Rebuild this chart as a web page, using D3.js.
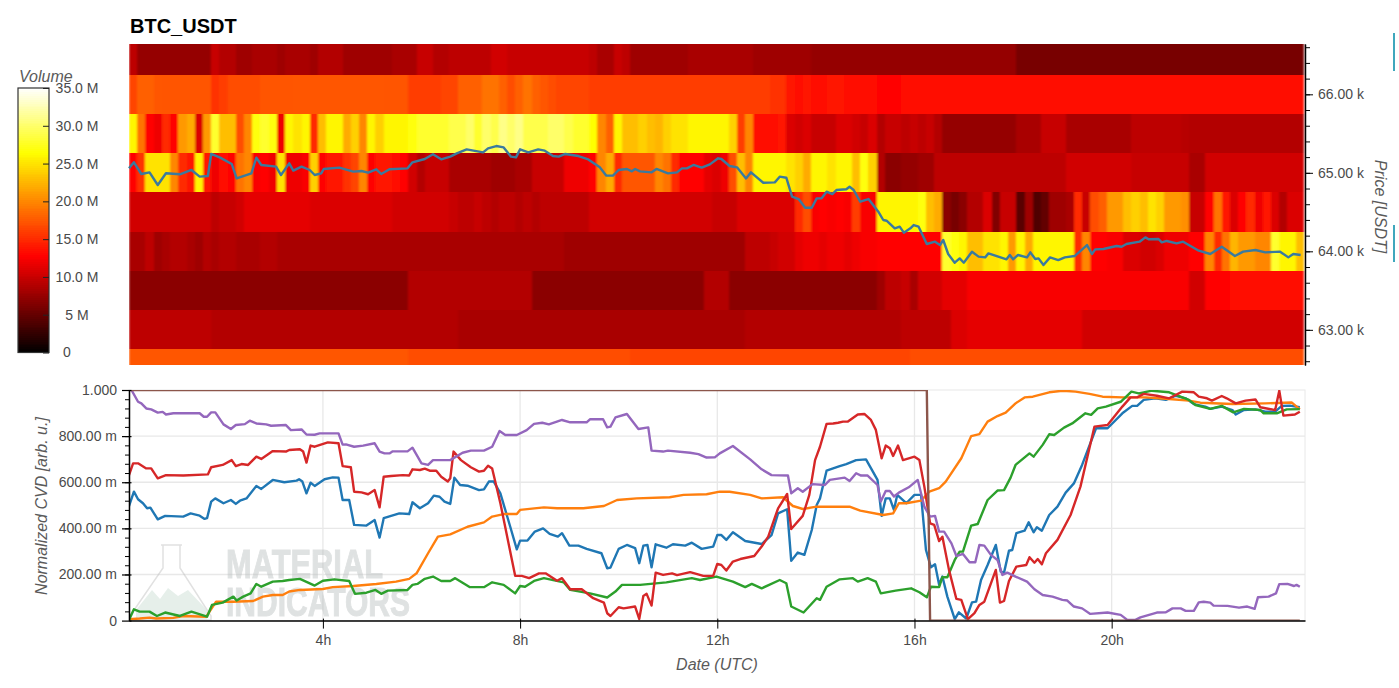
<!DOCTYPE html>
<html>
<head>
<meta charset="utf-8">
<script src="https://cdn.jsdelivr.net/npm/d3@7"></script>
<style>
  body { margin: 0; background: #fff; }
  text { font-family: "Liberation Sans", Arial, sans-serif; }
  .tick text { fill: #4a4a4a; font-size: 14px; }
  .axis-label { fill: #5a5a5a; font-size: 16px; font-style: italic; }
</style>
</head>
<body>
<svg id="chart" width="1399" height="688"></svg>
<script>
// Volume per price level (millions), one value per 10 minute column
const heatPrices = [66500, 66000, 65500, 65000, 64500, 64000, 63500, 63000, 62500];
const heat66500 = [
  9.5,7.5,7.5,7.5,7.5,7.5,7.5,7.5,7.5,7.5,
  10,9,9,8,8,8.5,8.5,8.5,8,8.5,
  8.5,8.5,8,9,9,9,8,8,8,8,
  8,8,8.5,8.5,8.5,10,10,9,9,9.5,
  9.5,9.5,9.5,9.5,10.5,10.5,10,10,10,10,
  10,10,10,10,10,10,9.5,8.5,8.5,10,
  9.5,8,8,8,8,8,8,8,8.5,8.5,
  8.5,8.5,8.5,8.5,8.5,8.5,8,8,8,8,
  8,8,8,7.5,7.5,7.5,7.5,7.5,7.5,7.5,
  7.5,7.5,7.5,7.5,7.5,7.5,7.5,7.5,7.5,7.5,
  7.5,7.5,7.5,7.5,7.5,7.5,7.5,7.5,6,6,
  6,6,6,6,6,6,6,6,6,6,
  6,6,6,6,6,6,6,6,6,6,
  6,6,6,6,6,6,6,6,6,6,
  6,6,6];
const heat66000 = [
  16.5,18,18,17.5,17.3,17.3,17.3,17.3,17.3,17.3,
  15.5,16,17,17,17,17,17.3,17.3,17.3,17.3,
  17.5,17.5,17.5,17.5,17.5,17.5,17.5,17.5,17.5,17.5,
  17.5,17.3,17.3,17.3,16,16,16,16,16.5,16.5,
  18,18,18,19,19,18,17,18,19,18,
  17.5,17,16.5,16.5,16.5,16.5,16,16,16,16,
  16,16,16,16,16,16,16,16,16,16,
  16,16,16,16,16,16,16,16,15.5,15.5,
  14,13.5,14,13.5,13.5,14,14,13.5,13.5,13.5,
  13.5,12.8,12.8,12.8,13.2,13.2,13.2,13.2,13.2,13.2,
  13.2,13.2,13.2,13.2,13.2,13.2,13.2,13.2,13.6,13.6,
  13.6,13.6,13.6,13.6,13.6,13.6,13.6,13.6,13.6,13.6,
  13.6,13.6,13.6,13.6,13.6,13.6,13.6,13.6,13.6,13.6,
  13.6,13.6,13.6,13.6,13.6,13.6,13.6,13.6,13.6,13.6,
  13.6,13.6,13.6];
const heat65500 = [
  26,19,13,12,15,13,21,22,11,21,
  28,23,23,17,20,27,28,27,12,26,
  25,26,15,23,26,26,22,24,20,26,
  24,26,26,26,27,28,28,28,28,29,
  29,30,28,30,29,31,30,31,29,29,
  29,30,30,29,28,28,26.5,20,18,26,
  23,23,24,23,22.5,24,25,25,26,26,
  26,26,26,24,16,20,13.5,13.5,13.5,14,
  11,10.5,11,10,10,10,11,11,10.5,10,
  11,9,10,10,9.5,10,9.5,10,9,7.5,
  7.5,7.5,7.5,7.5,7.5,7.5,7.5,7.5,8.5,8.5,
  8.5,10,10,10,8.5,8.5,8.5,8.5,8.5,8.5,
  8.5,8.5,9.5,9.5,9.5,9.5,9.5,9.5,9.2,9,
  9,9,9,9,9,9,9,9,9,9,
  9,9,9];
const heat65000 = [
  13,15.5,25,25,25,20,15,14,26,14,
  12,13.5,13,19,20,12.5,13,12,25,12,
  12,12.5,24,13,14,14,15.5,16.5,20,13,
  14,14,13.5,13,10.5,9,10,10,10,8.5,
  8.5,8.5,8.5,8.5,8,8,8,8.5,8.5,10,
  10,10,10,12,12,12,13,20,22,15,
  17.5,17.5,17.5,17.5,20,19,15,13,13,13,
  11.5,11,12,17,23,20,26,26,26,26,
  25,24,22,26,26,25,26,26,23,27,
  24,9,7,7,7.5,7.5,8,8,9.5,9.5,
  9.5,9.5,9.5,9.5,9.5,9.5,9.5,9.5,9.5,9.5,
  9.5,9.5,9.5,9.5,10.5,10.5,10.5,10.5,10.5,10.5,
  10.5,10.5,10,10,10,10,10,10,10,8.5,
  8.5,10.5,10.5,10.5,10.5,10.5,10.5,10.5,10.5,10.5,
  10.5,10.5,10.5];
const heat64500 = [
  10.5,10.5,10.5,10.5,10.5,10.5,10.5,10.5,10.5,10.5,
  9.5,10,10,10.5,11.5,11.5,11.5,11.5,11.5,11.5,
  11.5,11.5,11,11,11,11,11,11,11,11,
  11,11,10.5,10.5,10.5,10.5,10.5,10.5,10.5,10,
  9.5,9.5,10,9.5,9,9.5,9.5,9,9.5,9,
  9.5,9.5,9.5,9.5,9.5,9.5,10.5,10.5,10.5,10.5,
  10.5,10.5,10.5,10.5,10.5,10.5,10.5,10.5,10.5,10.5,
  10.5,10,10,10,11,11,11,11,11,11,
  11,15,17,12.5,13,12.5,12.8,12.5,16,12.5,
  12.5,26,26,26,26,26,27,23,22,7,
  6,7,9,9,11,6.5,10,10,4.5,8,
  4,5,8,8,8.5,15,10,17,18,21,
  21,23,24,23,25,24,21,21,20.5,10,
  10,13,19,14,11,13,15,12,14,11,
  9,11,11];
const heat64000 = [
  8.5,8.5,9.5,8,8.5,9,9,8.5,8,9,
  8.5,9,9,8.5,8.5,8.5,9,9,8.5,8.5,
  8.5,8.5,8.5,8.5,8.5,8.5,8.5,8.5,8.5,8.5,
  8.5,8.5,8.5,8.5,8.5,8.5,8.5,8.5,8.5,8.5,
  8.5,8.5,8.5,8.5,8.5,8.5,8.5,8.5,8.5,8.5,
  8.5,8.5,8.5,8,8,8,8,8,8,8,
  8,8,8,8,8,8,8,8,8,8,
  8,8,8,8,8,9.5,9.5,9.5,10,10.5,
  10.5,11.5,12,12,11.5,12,12,11.5,12,12.5,
  12.5,12.8,12.8,12.8,12.8,12.8,12.8,12.8,12.8,28,
  27,26,23,23,25,25,26,21,26,22,
  26,26,26,26,26,15,20,13,13,12.5,
  12.5,11,11,10.5,10.5,11,12,12,12,12.8,
  12.8,20,15,19,22.5,21,21,20,20,28,
  26,26,23];
const heat63500 = [
  7,7,7,7,7,7,7,7,7,7,
  7,7,7,7,7,7,7,7,7,7,
  7,7,7,7,7,7,7,7,7,7,
  7,7,7,7,9,9,9,9,9,9,
  9,9,9,9,9,9,9,9,9,7,
  7,7,7,7,7,7,7,7,7,7,
  7,7,7,7,7,7,7,7,7,7,
  9,9,9,7,7,7,7,7,7,7,
  7,7,7,7,7,7,7,7,7,7,
  7,8,9.5,9.5,10,8.5,10.5,10.5,10.5,11.5,
  11.5,11.5,12.5,12.5,12.5,12.5,12.5,12.5,12.5,12.5,
  12.5,12.5,12.5,12.5,12.5,12.5,12.5,12.5,12.5,12.5,
  12.5,12.5,12.5,12.5,12.5,12.5,12.5,12.5,12.5,10.5,
  10.5,12.8,12.8,12.8,13.2,13.2,13.2,13.2,13.2,13.2,
  13.2,13.2,13.2];
const heat63000 = [
  9.5,9.5,9.5,9.5,9.5,9.5,9.5,9.5,9.5,9.5,
  9,9,9,9,9,9,9,9,9,9,
  9,9,9,9,9,9,9,9,9,9,
  9,9,9,9,9,9,9,9,9,9,
  8.5,8.5,8.5,8.5,8.5,8.5,8.5,8.5,8.5,8.5,
  8.5,8.5,8.5,8.5,8.5,8.5,8.5,8.5,8.5,8.5,
  8.5,8.5,8.5,8.5,8.5,8.5,8.5,8.5,8.5,8.5,
  8.5,8.5,8.5,8.5,8.5,9,9,9,9,9,
  9,9,9,9,9,9,9,9,9,9,
  9,9,9,9,9.5,9.5,9.5,9.5,9.5,9.5,
  11,11,11.5,11.5,11.5,11.5,11.5,11.5,11.5,11.5,
  11.5,11.5,11.5,11.5,11.5,11.5,10.5,10.5,10.5,10.5,
  10.5,10.5,10.5,10.5,10.5,10.5,10.5,10.5,10.5,10.5,
  10.5,10.5,10.5,10.5,10.5,10.5,10.5,10.5,10.5,10.5,
  10.5,10.5,10.5];
const heat62500 = [
  17.5,17.5,17.5,17.5,17.5,17.5,17.5,17.5,17.5,17.5,
  17.5,17.5,17.5,17.5,17.5,17.5,17.5,17.5,17.5,17.5,
  17.5,17.5,17.5,17.5,17.5,17.5,17.5,17.5,17.5,17.5,
  17.5,17.5,17.5,17.5,17,17,17,17,17,17,
  17,17,17,17,17,17,17,17,17,17,
  17,17,17,17,17,17,17,17,17,17,
  17,16.5,16.5,16.5,16.5,16.5,16.5,16.5,16.5,16.5,
  16.5,16.5,16.5,16.5,16.5,16.5,16.5,16.5,16.5,16.5,
  16.5,16.5,16.5,16.5,16.5,16.5,16.5,16.5,16.5,16.5,
  16.5,16.5,16.5,16.5,16.5,17,17,17,17,17,
  17,17,17,17,17,17,17,17,17,17,
  17,17,17,17,17,17,17,17,17,17,
  17,17,17,17,17,17,17,17,17,17,
  17,17,17,17,17,17,17,17,17,17,
  17,17,17];
const heatRows = [heat66500, heat66000, heat65500, heat65000, heat64500, heat64000, heat63500, heat63000, heat62500];

// Price line: [minute of day, price]
const price = [[4,65057],[10,65134],[19,64985],[29,65006],[39,64845],[49,64994],[66,64981],[80,65036],[90,64951],[100,64960],[104,65240],[115,65193],[129,65113],[135,64930],[153,64994],[159,65193],[165,65100],[183,65079],[189,64972],[199,65121],[204,65028],[214,65079],[224,65036],[230,64972],[238,64994],[241,65049],[260,65066],[277,65015],[287,65023],[295,65002],[305,65045],[311,64985],[321,65045],[343,65057],[349,65134],[364,65176],[374,65236],[384,65172],
  [395,65206],[403,65248],[415,65299],[435,65260],[441,65312],[451,65341],[460,65324],[469,65206],[475,65197],[480,65299],[490,65260],[502,65299],[510,65282],[520,65214],[527,65206],[535,65240],[551,65214],[563,65171],[577,65070],[585,64964],[593,64964],[600,65036],[610,65049],[616,65019],[620,65049],[626,65019],[640,65006],[646,65049],[660,64993],[671,65006],[677,65057],[683,65057],[691,65100],[701,65066],[711,65108],[721,65185],[725,65176],[735,65087],[744,65070],[755,64929],[761,65006],[776,64874],[790,64878],[796,64951],[804,64938],[811,64696],[819,64666],[827,64555],[835,64555],[841,64675],[847,64675],[853,64760],[860,64730],[865,64781],[877,64790],[881,64823],[886,64781],[894,64632],[904,64666],[916,64505],[922,64399],[926,64390],[936,64292],
  [942,64314],[947,64238],[955,64293],[959,64335],[965,64314],[975,64093],[985,64123],[991,64080],[995,64144],[1001,63966],[1009,63855],[1015,63910],[1020,63855],[1030,63995],[1038,63932],[1046,63923],[1050,63974],[1072,63898],[1076,63953],[1080,63898],[1086,63953],[1097,63923],[1101,63987],[1107,63902],[1111,63910],[1117,63825],[1125,63923],[1135,63889],[1143,63923],[1155,63940],[1170,64080],[1176,63966],[1180,64025],[1190,64030],[1206,64068],[1212,64059],[1218,64093],[1234,64123],[1241,64178],[1245,64153],[1257,64157],[1261,64115],[1267,64132],[1279,64102],[1287,64123],[1306,64008],[1320,63966],[1334,64059],[1350,63940],[1360,63996],[1375,64017],[1387,63987],[1405,63996],[1415,63923],[1421,63966],[1430,63953]];

// Normalized CVD lines: [minute of day, milli units]
const cvdBlue = [[4,497],[10,559],[15,526],[21,509],[26,487],[30,490],[39,439],[48,454],[70,451],[79,465],[90,455],[96,441],[99,444],[104,516],[109,530],[119,509],[128,523],[134,506],[139,520],[147,530],[159,584],[165,571],[179,610],[193,600],[208,607],[211,613],[215,603],[220,552],[225,598],[230,584],[242,613],[252,621],[259,620],[264,523],[272,523],[278,415],[293,412],[303,436],[309,360],[314,444],[333,465],[345,462],[349,513],[358,487],[368,509],[375,542],[382,537],[388,516],[395,506],[400,620],[407,588],[416,585],[430,566],[436,569],[442,603],[448,603],[456,552],[468,407],[476,309],[480,347],[489,347],[498,386],[508,400],[516,376],[526,364],[531,379],[540,325],[551,325],[561,311],[579,292],[586,227],[590,230],[600,311],[610,328],[620,314],[625,249],[630,325],[635,328],[640,231],[645,331],[658,316],[666,331],[681,325],[689,338],[701,311],[715,321],[720,371],[725,371],[731,350],[739,383],[754,345],[774,332],[786,371],[794,465],[805,483],[810,259],[818,295],[826,285],[835,393],[841,501],[845,530],[853,650],[869,670],[877,679],[889,696],[901,699],[915,610],[920,454],[925,530],[930,530],[935,480],[939,545],[950,509],[960,545],[968,545],[974,306],[980,231],[985,244],[990,155],[994,191],[1000,104],[1009,6],[1014,36],[1023,9],[1030,79],[1035,82],[1041,176],[1049,241],[1059,328],[1065,212],[1069,208],[1075,303],[1079,306],[1084,379],[1094,390],[1099,426],[1105,383],[1109,405],[1115,390],[1124,458],[1134,494],[1144,555],[1154,595],[1164,675],[1181,834],[1195,834],[1213,899],[1225,931],[1231,931],[1239,957],[1253,964],[1266,957],[1278,975],[1290,964],[1300,939],[1314,928],[1320,918],[1334,928],[1347,913],[1351,894],[1361,913],[1375,916],[1387,906],[1399,906],[1407,931],[1417,932],[1429,925]];
const cvdOrange = [[4,6],[17,9],[29,13],[37,9],[58,12],[70,20],[98,17],[110,82],[130,82],[155,85],[167,104],[179,111],[191,111],[199,126],[212,133],[240,137],[252,145],[277,150],[305,159],[329,169],[345,181],[354,205],[368,292],[380,364],[395,374],[416,407],[436,426],[446,451],[460,462],[476,462],[480,480],[509,491],[525,487],[557,487],[582,497],[598,523],[622,530],[662,535],[679,545],[707,548],[723,559],[735,559],[760,545],[774,530],[800,535],[812,497],[824,484],[841,494],[881,494],[894,477],[922,458],[934,465],[941,509],[950,509],[968,520],[978,559],[990,574],[998,603],[1017,704],[1029,800],[1039,809],[1049,863],[1061,887],[1071,902],[1083,942],[1094,968],[1104,971],[1124,990],[1140,997],[1156,993],[1173,983],[1189,971],[1213,968],[1241,968],[1270,961],[1294,954],[1308,945],[1347,939],[1387,942],[1419,946],[1429,916]];
const cvdGreen = [[4,3],[10,49],[17,39],[29,39],[38,20],[48,35],[66,20],[80,39],[99,17],[105,68],[118,78],[131,104],[135,87],[143,104],[152,118],[159,159],[165,147],[179,169],[191,172],[199,176],[212,181],[230,152],[240,173],[254,179],[272,172],[279,116],[293,121],[304,133],[311,116],[319,130],[343,133],[349,155],[355,159],[364,181],[374,191],[384,172],[395,172],[401,184],[419,145],[436,145],[446,166],[460,155],[474,118],[480,150],[486,147],[497,172],[509,184],[533,166],[541,133],[565,118],[586,100],[596,126],[604,155],[626,155],[658,166],[689,184],[699,176],[719,191],[739,169],[754,145],[762,159],[774,140],[796,176],[804,162],[810,61],[825,35],[841,97],[845,90],[853,147],[869,179],[885,184],[891,169],[903,184],[913,169],[919,118],[937,130],[956,140],[966,123],[975,101],[980,147],[990,145],[994,188],[1000,188],[1009,263],[1015,299],[1019,299],[1029,412],[1037,419],[1049,523],[1061,564],[1069,566],[1077,620],[1083,675],[1100,725],[1105,711],[1116,762],[1124,808],[1130,805],[1142,837],[1152,855],[1168,899],[1175,892],[1183,920],[1193,928],[1211,949],[1224,993],[1233,985],[1249,997],[1270,990],[1294,957],[1302,935],[1320,918],[1334,931],[1348,903],[1361,918],[1381,913],[1385,899],[1401,899],[1413,916],[1429,917]];
const cvdRed = [[4,631],[9,682],[15,682],[25,660],[31,660],[39,617],[49,631],[70,629],[100,634],[104,665],[118,675],[129,696],[134,670],[141,679],[149,675],[159,711],[165,701],[179,735],[195,733],[199,740],[212,743],[216,733],[220,685],[225,759],[230,754],[246,773],[259,769],[264,670],[274,665],[278,559],[287,556],[295,548],[303,566],[309,491],[314,624],[323,627],[337,631],[345,629],[349,656],[358,653],[364,659],[370,650],[378,650],[384,624],[392,603],[395,617],[399,733],[408,696],[420,665],[430,646],[436,650],[441,672],[446,660],[456,509],[474,194],[482,194],[491,184],[503,205],[511,205],[525,173],[531,184],[541,136],[555,136],[569,97],[582,78],[586,32],[590,20],[600,58],[606,53],[620,61],[625,7],[630,107],[634,116],[640,65],[645,208],[654,198],[665,205],[671,197],[687,210],[703,194],[715,194],[720,246],[725,241],[731,217],[739,256],[748,267],[765,280],[774,321],[782,364],[794,487],[805,549],[810,397],[824,454],[832,545],[839,696],[845,754],[853,853],[861,855],[867,858],[873,863],[879,863],[891,894],[899,896],[907,870],[913,827],[920,704],[925,759],[930,747],[934,714],[940,759],[946,696],[960,711],[966,696],[972,581],[979,422],[984,415],[990,345],[994,364],[1002,220],[1011,94],[1017,90],[1025,6],[1033,32],[1039,68],[1045,82],[1059,220],[1064,78],[1069,85],[1075,172],[1084,234],[1096,241],[1100,275],[1106,251],[1110,267],[1115,244],[1120,292],[1134,350],[1150,458],[1162,581],[1179,841],[1195,848],[1213,928],[1223,968],[1231,968],[1239,983],[1255,975],[1270,964],[1286,993],[1300,990],[1306,971],[1316,964],[1322,954],[1334,974],[1340,964],[1351,942],[1363,954],[1375,959],[1381,925],[1399,913],[1404,997],[1409,889],[1423,894],[1429,906]];
const cvdPurple = [[7,1000],[15,949],[19,942],[25,920],[31,916],[39,902],[45,905],[49,894],[58,899],[90,899],[95,884],[99,884],[104,903],[109,903],[119,851],[128,831],[134,848],[145,852],[151,867],[159,855],[171,851],[177,845],[195,848],[201,826],[214,829],[220,807],[230,806],[236,812],[259,812],[264,763],[268,764],[278,754],[289,759],[303,769],[309,733],[315,725],[321,725],[325,734],[343,734],[349,750],[360,682],[368,675],[374,696],[395,696],[410,728],[420,737],[436,737],[446,754],[455,822],[462,805],[476,805],[488,826],[497,853],[507,858],[515,851],[531,870],[541,860],[561,860],[565,873],[581,873],[586,838],[590,841],[596,881],[610,896],[624,831],[636,838],[640,737],[654,733],[660,737],[687,728],[697,722],[707,707],[717,708],[723,725],[739,757],[760,699],[774,656],[786,631],[806,629],[810,552],[818,574],[824,559],[836,592],[851,588],[857,610],[875,620],[881,605],[889,639],[895,629],[903,629],[915,588],[919,516],[925,562],[930,562],[935,538],[941,555],[953,578],[964,610],[972,494],[979,451],[985,454],[990,386],[996,386],[1005,335],[1011,280],[1019,289],[1027,253],[1034,253],[1039,328],[1045,325],[1053,285],[1061,263],[1067,198],[1073,208],[1083,191],[1097,169],[1106,136],[1116,111],[1128,104],[1140,90],[1146,87],[1154,61],[1164,53],[1174,29],[1195,35],[1211,25],[1219,3],[1229,3],[1235,14],[1255,35],[1266,36],[1274,53],[1284,53],[1290,42],[1300,42],[1306,79],[1312,82],[1320,78],[1324,65],[1341,64],[1355,56],[1365,61],[1374,51],[1378,101],[1391,104],[1400,118],[1404,158],[1414,159],[1422,150],[1425,155],[1429,147]];
const cvdBrown = [[4,1000],[975,1000],[979,0],[1429,0]];
const cvdSeries = [cvdBlue, cvdOrange, cvdGreen, cvdRed, cvdPurple, cvdBrown];
const cvdColors = ["#1f77b4", "#ff7f0e", "#2ca02c", "#d62728", "#9467bd", "#8c564b"];

const volumeTicks = [0, 5, 10, 15, 20, 25, 30, 35];
const hourTicks = [240, 480, 720, 960, 1200];
const cvdTicks = [0, 200, 400, 600, 800, 1000];
const priceTicks = [63000, 64000, 65000, 66000];

const svg = d3.select("#chart");

// shared scales
const x = d3.scaleLinear().domain([4, 1435.3]).range([129, 1305]);
const yPrice = d3.scaleLinear().domain([62552, 66641]).range([365, 44]);
const yCvd = d3.scaleLinear().domain([0, 1000]).range([620.6, 390]);
const yVol = d3.scaleLinear().domain([0, 35]).range([352.5, 88]);
const heat = d3.scaleLinear().domain([0, 12.8, 26.5, 35])
  .range(["#000000", "#ff0000", "#ffff00", "#ffffff"]);

svg.append("text").attr("x", 130).attr("y", 33)
  .style("font-size", "20px").style("font-weight", "bold").attr("fill", "#000")
  .text("BTC_USDT");

// heatmap, the reference columns run softly into each other
const soft = svg.append("filter").attr("id", "soft")
  .attr("x", "-1%").attr("y", "-1%").attr("width", "102%").attr("height", "102%");
soft.append("feGaussianBlur").attr("stdDeviation", "1.2 0.3").attr("edgeMode", "duplicate");
svg.append("clipPath").attr("id", "heatClip").append("rect")
  .attr("x", 129).attr("y", 44).attr("width", 1176).attr("height", 321);
const heatG = svg.append("g").attr("clip-path", "url(#heatClip)")
  .append("g").attr("filter", "url(#soft)").attr("shape-rendering", "crispEdges");
heatRows.forEach((row, r) => {
  heatG.selectAll(null).data(row).enter().append("rect")
    .attr("x", (d, i) => x(4 + i * 10))
    .attr("width", x(14) - x(4) + 0.5)
    .attr("y", yPrice(heatPrices[r] + 250))
    .attr("height", yPrice(heatPrices[r] - 250) - yPrice(heatPrices[r] + 250))
    .attr("fill", d => heat(d));
});

const line = d3.line().x(d => x(d[0]));
svg.append("path")
  .attr("d", line.y(d => yPrice(d[1]))(price))
  .attr("fill", "none").attr("stroke", "#3a7a9e").attr("stroke-width", 2.4)
  .attr("stroke-linejoin", "round");

// price axis
const priceAxis = svg.append("g").attr("transform", "translate(1305,0)")
  .call(d3.axisRight(yPrice).tickValues(priceTicks).tickSize(8).tickSizeOuter(0).tickPadding(5)
    .tickFormat(d => (d / 1000).toFixed(2) + " k"));
svg.append("g").attr("transform", "translate(1305,0)")
  .call(d3.axisRight(yPrice).tickValues(d3.range(62600, 66700, 200)).tickSize(5).tickSizeOuter(0).tickFormat(""));
priceAxis.select(".domain").attr("stroke-width", 1.5);
svg.append("text").attr("class", "axis-label")
  .attr("transform", "translate(1375,206.5) rotate(90)")
  .attr("text-anchor", "middle").text("Price [USDT]");

// colour bar
svg.append("text").attr("class", "axis-label").attr("x", 19).attr("y", 82).text("Volume");
const barG = svg.append("g").attr("shape-rendering", "crispEdges");
barG.selectAll(null).data(d3.range(0, 35, 0.25)).enter().append("rect")
  .attr("x", 18).attr("width", 31)
  .attr("y", d => yVol(d + 0.25))
  .attr("height", d => yVol(d) - yVol(d + 0.25) + 0.5)
  .attr("fill", d => heat(d + 0.125));
svg.append("rect").attr("x", 18).attr("y", 88).attr("width", 31).attr("height", 264.5)
  .attr("fill", "none").attr("stroke", "#333").attr("stroke-width", 1.2);
const volAxis = svg.append("g").attr("transform", "translate(49,0)")
  .call(d3.axisRight(yVol).tickValues(volumeTicks).tickSize(0).tickPadding(28)
    .tickFormat(d => d === 0 ? "0" : d === 5 ? "5 M" : d.toFixed(1) + " M"));
volAxis.select(".domain").remove();
volAxis.selectAll(".tick text").attr("text-anchor", "middle").attr("dx", d => d === 0 ? -10 : 0);
volAxis.selectAll(".tick line").attr("x1", -6).attr("x2", 0).attr("stroke", "#222");

// lower plot frame and grid
const gridColor = "#e8e8e8";
svg.append("rect").attr("x", 129).attr("y", 390).attr("width", 1176).attr("height", 230.6)
  .attr("fill", "#fff").attr("stroke", gridColor);
svg.append("g").selectAll(null).data(cvdTicks.slice(1, -1)).enter().append("line")
  .attr("x1", 129).attr("x2", 1305).attr("y1", d => yCvd(d)).attr("y2", d => yCvd(d))
  .attr("stroke", gridColor).attr("stroke-width", 1.3);
svg.append("g").selectAll(null).data(hourTicks).enter().append("line")
  .attr("x1", d => x(d)).attr("x2", d => x(d)).attr("y1", 390).attr("y2", 620.6)
  .attr("stroke", gridColor).attr("stroke-width", 1.3);

// watermark
const mark = svg.append("g").attr("opacity", 0.45);
mark.append("path")
  .attr("d", "M136,610 L152,590 L160,599 L168,588 L178,596 L188,590 L207,610 L207,620 L136,620 Z")
  .attr("fill", "#c8dcd2");
mark.append("path")
  .attr("d", "M161,545 L182,545 M163,545 L163,568 L130,616 L130,620 L211,620 L211,616 L180,568 L180,545")
  .attr("fill", "none").attr("stroke", "#bdbdbd").attr("stroke-width", 1.5);
[["MATERIAL", 578, 157], ["INDICATORS", 616, 184]].forEach(w => {
  mark.append("text").attr("x", 226).attr("y", w[1]).attr("textLength", w[2])
    .attr("lengthAdjust", "spacingAndGlyphs")
    .style("font-size", "41px").style("font-weight", "bold")
    .attr("fill", "#b9bfbf").attr("stroke", "#b9bfbf").attr("stroke-width", 1).text(w[0]);
});

// CVD lines, clipped to the plot so the flat brown runs show half their width
svg.append("clipPath").attr("id", "cvdClip").append("rect")
  .attr("x", 129).attr("y", 390).attr("width", 1176).attr("height", 230.6);
const cvdG = svg.append("g").attr("clip-path", "url(#cvdClip)");
cvdSeries.forEach((s, i) => {
  cvdG.append("path")
    .attr("d", line.y(d => yCvd(d[1]))(s))
    .attr("fill", "none").attr("stroke", cvdColors[i]).attr("stroke-width", 2.4)
    .attr("stroke-linejoin", "round");
});

// CVD axes
const leftAxis = svg.append("g").attr("transform", "translate(129,0)")
  .call(d3.axisLeft(yCvd).tickValues(cvdTicks).tickSize(7).tickSizeOuter(0).tickPadding(5)
    .tickFormat(d => d === 0 ? "0" : d === 1000 ? "1.000" : d.toFixed(2) + " m"));
leftAxis.selectAll(".tick line").attr("x1", 2.5).attr("stroke-width", 1.2);
leftAxis.select(".domain").attr("stroke-width", 1.5);
svg.append("g").attr("transform", "translate(129,0)")
  .call(d3.axisLeft(yCvd).tickValues(d3.range(40, 1000, 40)).tickSize(4).tickSizeOuter(0).tickFormat(""));

const bottomAxis = svg.append("g").attr("transform", "translate(0,620.6)")
  .call(d3.axisBottom(x).tickValues(hourTicks).tickSize(8).tickSizeOuter(0).tickPadding(6)
    .tickFormat(d => (d / 60) + "h"));
bottomAxis.selectAll(".tick line").attr("y1", -2);
bottomAxis.select(".domain").attr("stroke-width", 1.5);

svg.append("text").attr("class", "axis-label").attr("x", 717).attr("y", 670)
  .attr("text-anchor", "middle").text("Date (UTC)");
svg.append("text").attr("class", "axis-label")
  .attr("transform", "translate(47,506) rotate(-90)")
  .attr("text-anchor", "middle").text("Normalized CVD [arb. u.]");

// scrollbar marks at the page edge
[[33, 71], [225, 262]].forEach(m => {
  svg.append("rect").attr("x", 1393).attr("y", m[0]).attr("width", 2).attr("height", m[1] - m[0])
    .attr("fill", "#3fa7bd");
});
</script>
</body>
</html>
